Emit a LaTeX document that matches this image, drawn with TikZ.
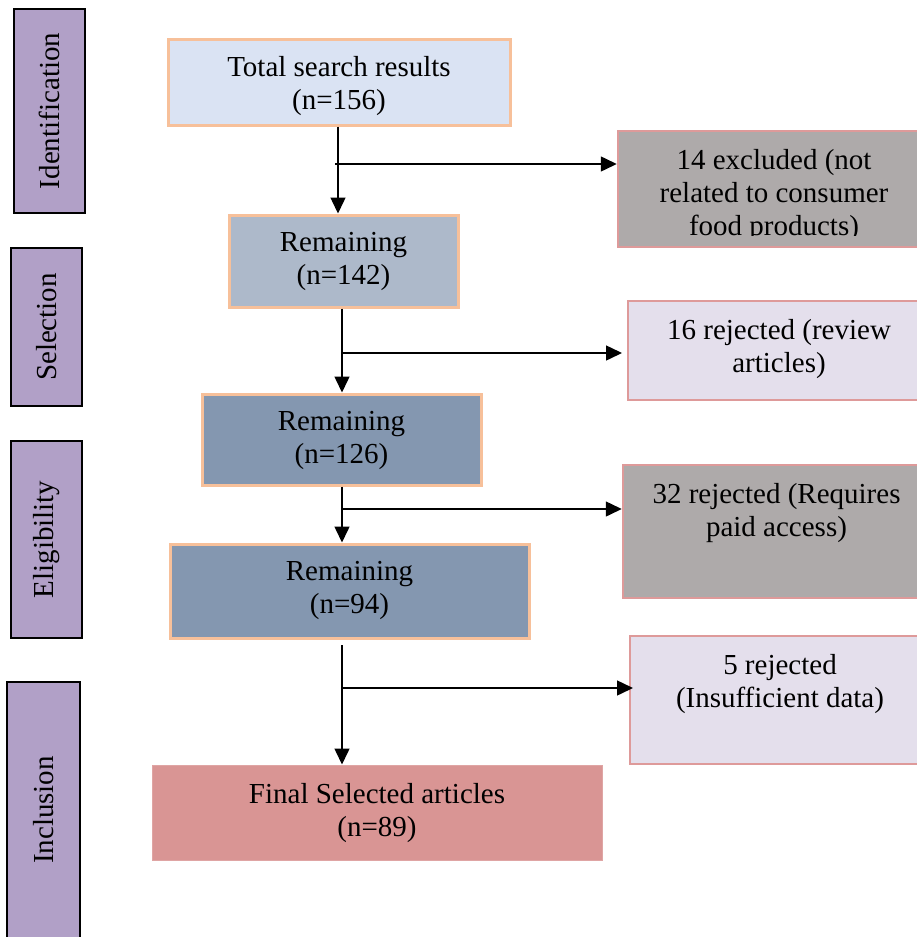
\documentclass[tikz,border=0pt]{standalone}
\usepackage{fontspec}
\setmainfont{Liberation Serif}
\usetikzlibrary{arrows.meta}
\definecolor{sidec}{HTML}{B1A0C7}
\definecolor{peach}{HTML}{F7C09A}
\definecolor{pinkb}{HTML}{DE9A9A}
\definecolor{cTotal}{HTML}{DAE3F3}
\definecolor{cRemA}{HTML}{ADB9CA}
\definecolor{cRemB}{HTML}{8497B0}
\definecolor{cFinal}{HTML}{D99594}
\definecolor{cGrey}{HTML}{AEAAAA}
\definecolor{cLav}{HTML}{E4DFEC}
\begin{document}
\begin{tikzpicture}[x=1pt,y=-1pt]
\tikzset{
 sidelbl/.style={draw=black, line width=2pt, fill=sidec, inner sep=0pt, minimum width=71pt},
 mainbox/.style={draw=peach, line width=3pt, inner sep=0pt},
 rightbox/.style={draw=pinkb, line width=2.5pt, inner sep=0pt},
 txt/.style={align=center, anchor=north, inner sep=0pt, font=\fontsize{29}{33}\selectfont},
 sidetxt/.style={rotate=90, inner sep=0pt, font=\fontsize{29}{33}\selectfont},
 arr/.style={line width=1.5pt, -{Triangle[length=16pt,width=15pt]}},
 seg/.style={line width=1.5pt}
}
\useasboundingbox (0,0) rectangle (917,937);
\clip (0,0) rectangle (917,937);

% side labels
\node[sidelbl, minimum height=204pt] (id) at (49.5,111) {};
\node[sidetxt] (idt) at (id) {Identification};
\node[sidelbl, minimum height=158pt] (sel) at (46.5,327) {};
\node[sidetxt] (selt) at (sel) {Selection};
\node[sidelbl, minimum height=197pt] (eli) at (46.5,539.5) {};
\node[sidetxt] (elit) at (eli) {Eligibility};
\node[sidelbl, minimum width=73pt, minimum height=256pt] (inc) at (43.5,810) {};
\node[sidetxt] (inct) at (inc) {Inclusion};

% main boxes
\node[mainbox, fill=cTotal, minimum width=342pt, minimum height=86pt] (total) at (339,82) {};
\node[txt] (totalt) at ([yshift=-19pt]total.north) {Total search results\\(n=156)};
\node[mainbox, fill=cRemA, minimum width=229pt, minimum height=92pt] (rem1) at (343.5,261) {};
\node[txt] (rem1t) at ([yshift=-19pt]rem1.north) {Remaining\\(n=142)};
\node[mainbox, fill=cRemB, minimum width=279pt, minimum height=91pt] (rem2) at (341.5,439.5) {};
\node[txt] (rem2t) at ([yshift=-19pt]rem2.north) {Remaining\\(n=126)};
\node[mainbox, fill=cRemB, minimum width=359pt, minimum height=94pt] (rem3) at (349.5,591) {};
\node[txt] (rem3t) at ([yshift=-19pt]rem3.north) {Remaining\\(n=94)};
\node[draw=cFinal!85!white, line width=1pt, fill=cFinal, inner sep=0pt, minimum width=450pt, minimum height=95pt] (final) at (377,812.5) {};
\node[txt] (finalt) at ([yshift=-19pt]final.north) {Final Selected articles\\(n=89)};

% right boxes
\node[rightbox, fill=cGrey, minimum width=312pt, minimum height=116pt] (ex1) at (774,189) {};
\begin{scope}
\clip (618,131) rectangle (930,235);
\node[txt] (ex1t) at ([yshift=-19pt]ex1.north) {14 excluded (not\\related to consumer\\food products)};
\end{scope}
\node[rightbox, fill=cLav, minimum width=302pt, minimum height=99pt] (ex2) at (779,350.5) {};
\node[txt] (ex2t) at ([yshift=-19pt]ex2.north) {16 rejected (review\\articles)};
\node[rightbox, fill=cGrey, minimum width=307pt, minimum height=133pt] (ex3) at (776.5,531.5) {};
\node[txt] (ex3t) at ([yshift=-19pt]ex3.north) {32 rejected (Requires\\paid access)};
\node[rightbox, fill=cLav, minimum width=300pt, minimum height=128pt] (ex4) at (780,700) {};
\node[txt] (ex4t) at ([yshift=-19pt]ex4.north) {5 rejected\\(Insufficient data)};

% connectors
\coordinate (v1) at (338,164);
\coordinate (b1) at (335,164);
\draw[arr] (total.south -| v1) -- (rem1.north -| v1);
\draw[arr] (b1) -- (ex1.west |- b1);

\coordinate (v2) at (342,353);
\coordinate (t2) at (622,353);
\draw[arr] (rem1.south -| v2) -- (rem2.north -| v2);
\draw[arr] (v2) -- (t2);

\coordinate (v3) at (342,509);
\draw[arr] (rem2.south -| v3) -- (rem3.north -| v3);
\draw[arr] (v3) -- (ex3.west |- v3);

\coordinate (s4) at (342,645);
\coordinate (v4) at (341,688);
\coordinate (t4) at (633,688);
\draw[arr] (s4) -- (final.north -| s4);
\draw[arr] (v4) -- (t4);
\end{tikzpicture}
\end{document}
